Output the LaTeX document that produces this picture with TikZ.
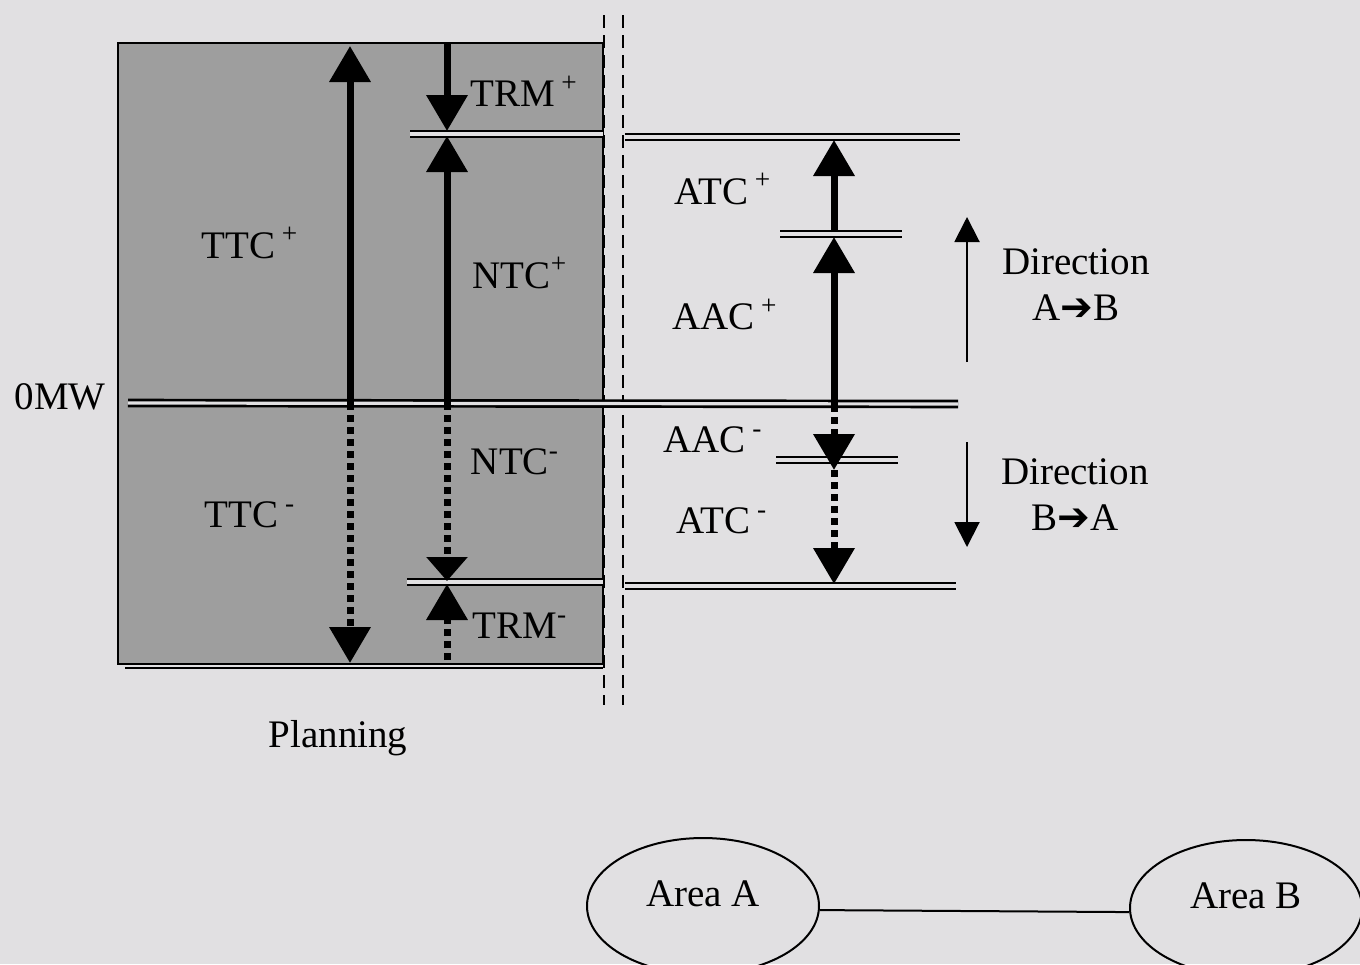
\documentclass[tikz,border=0pt]{standalone}
\usepackage{fontspec}
\setmainfont{Liberation Serif}
\newfontfamily\arrfont{DejaVu Sans}
\usetikzlibrary{arrows.meta,shapes.geometric}
\definecolor{page}{HTML}{E1E0E2}
\definecolor{boxgray}{HTML}{9E9E9E}
\begin{document}
\begin{tikzpicture}[x=0.5pt,y=-0.5pt,
  lbl/.style={font=\fontsize{19.5}{23}\selectfont, inner sep=0pt, align=center},
  dbl/.style={line width=1.35pt, double=page, double distance=1.6pt},
  solidarr/.style={line width=3.5pt, -{Triangle[length=18pt,width=20pt]}},
  dotarr/.style={line width=3.5pt, dash pattern=on 3.5pt off 2.5pt, -{Triangle[length=18pt,width=20pt]}},
  shortarr/.style={line width=3.5pt, dash pattern=on 3.5pt off 2.5pt, -{Triangle[length=12pt,width=20pt]}},
  thinarr/.style={line width=1pt, -{Triangle[length=12.5pt,width=12.5pt]}},
  dashv/.style={line width=1.1pt, dash pattern=on 6.5pt off 3.5pt},
  area/.style={ellipse, draw, line width=1pt, minimum width=116pt, minimum height=68pt, inner sep=0pt, text depth=12pt, font=\fontsize{19.5}{23}\selectfont}
]
\useasboundingbox (0,0) rectangle (1360,964);
\fill[page] (0,0) rectangle (1360,964);

% planning box
\filldraw[fill=boxgray, draw=black, line width=0.8pt] (118,43) rectangle (603,664);
\draw[line width=1.3pt] (125,668) -- (603,668);

% dashed separators
\coordinate (d1t) at (604,15); \coordinate (d1b) at (604,705);
\coordinate (d2t) at (623,15); \coordinate (d2b) at (623,705);
\draw[dashv] (d1t) -- (d1b);
\draw[dashv] (d2t) -- (d2b);

% horizontal levels
\coordinate (zeroL) at (128,403); \coordinate (zeroR) at (958,404);
\coordinate (trmpL) at (410,134); \coordinate (trmpR) at (603,134);
\coordinate (trmmL) at (407,582); \coordinate (trmmR) at (603,582);
\coordinate (atcpL) at (625,137); \coordinate (atcpR) at (960,137);
\coordinate (aacpL) at (780,234); \coordinate (aacpR) at (902,234);
\coordinate (aacmL) at (776,460); \coordinate (aacmR) at (898,460);
\coordinate (atcmL) at (625,586); \coordinate (atcmR) at (956,586);
\draw[dbl] (zeroL) -- (zeroR);
\draw[dbl] (trmpL) -- (trmpR);
\draw[dbl] (trmmL) -- (trmmR);
\draw[dbl] (atcpL) -- (atcpR);
\draw[dbl] (aacpL) -- (aacpR);
\draw[dbl] (aacmL) -- (aacmR);
\draw[dbl] (atcmL) -- (atcmR);

% TTC column
\coordinate (ttc0) at (350,403);
\coordinate (ttcP) at (350,46);
\coordinate (ttcM) at (350,663);
\draw[solidarr] (ttc0) -- (ttcP);
\draw[dotarr] (ttc0) -- (ttcM);

% NTC / TRM column
\coordinate (ntc0) at (447,403);
\coordinate (ntcTop) at (447,43);
\coordinate (trmPtip) at (447,131);
\coordinate (ntcPtip) at (447,136);
\coordinate (ntcMtip) at (447,581);
\coordinate (trmMtip) at (447,584);
\coordinate (ntcBot) at (447,660);
\draw[solidarr] (ntcTop) -- (trmPtip);
\draw[solidarr] (ntc0) -- (ntcPtip);
\draw[shortarr] (ntc0) -- (ntcMtip);
\draw[dotarr] (ntcBot) -- (trmMtip);

% right column
\coordinate (r0) at (834,405);
\coordinate (rmid) at (834,232);
\coordinate (rtop) at (834,140);
\coordinate (raacp) at (834,237);
\coordinate (raacm) at (834,470);
\coordinate (ratcm) at (834,584);
\draw[solidarr] (rmid) -- (rtop);
\draw[solidarr] (r0) -- (raacp);
\draw[dotarr] (r0) -- (raacm);
\draw[dotarr] (raacm) -- (ratcm);

% direction arrows
\coordinate (upS) at (967,362); \coordinate (upE) at (967,217);
\coordinate (dnS) at (967,442); \coordinate (dnE) at (967,547);
\draw[thinarr] (upS) -- (upE);
\draw[thinarr] (dnS) -- (dnE);

% labels
\node[lbl] (ttcp) at (250,243) {TTC\,\textsuperscript{+}};
\node[lbl] (ttcm) at (250,515) {TTC\,\textsuperscript{-}};
\node[lbl] (ntcp) at (520,273) {NTC\textsuperscript{+}};
\node[lbl] (ntcm) at (515,462) {NTC\textsuperscript{-}};
\node[lbl] (trmp) at (524,91) {TRM\,\textsuperscript{+}};
\node[lbl] (trmm) at (520,626) {TRM\textsuperscript{-}};
\node[lbl] (atcp) at (723,189) {ATC\,\textsuperscript{+}};
\node[lbl] (aacp) at (725,314) {AAC\,\textsuperscript{+}};
\node[lbl] (aacm) at (713,440) {AAC\,\textsuperscript{-}};
\node[lbl] (atcm) at (722,521) {ATC\,\textsuperscript{-}};
\node[lbl] (dirab) at (1076,285) {Direction\\A{\arrfont\char"2794}B};
\node[lbl] (dirba) at (1075,495) {Direction\\B{\arrfont\char"2794}A};
\node[lbl] (zero) at (60,397) {0MW};
\node[lbl] (plan) at (338,738) {Planning};

% areas
\node[area] (A) at (703,906) {Area A};
\node[area] (B) at (1246,908) {Area B};
\draw[line width=1pt] (A.-2) -- (B.182);
\end{tikzpicture}
\end{document}
